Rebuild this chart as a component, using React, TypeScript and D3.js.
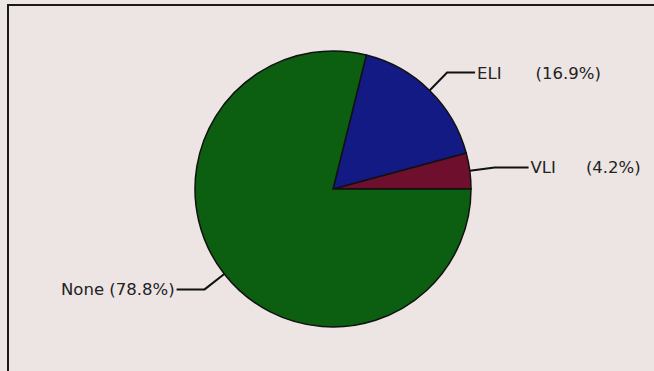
import React from "react";
import * as d3 from "d3";

const categories = ["VLI", "ELI", "None"];
const values = [4.2, 16.9, 78.8];
const pctLabels = ["(4.2%)", "(16.9%)", "(78.8%)"];
const colors = ["#6e0f2e", "#141a84", "#0c5e10"];

const W = 654;
const H = 371;
const cx = 333;
const cy = 189;
const R = 138;
const elbowR = 163;
const font = "'DejaVu Sans', Verdana, sans-serif";

export default function App() {
  const pie = d3
    .pie<number>()
    .sort(null)
    .startAngle(Math.PI / 2)
    .endAngle(Math.PI / 2 - 2 * Math.PI);
  const arcs = pie(values);
  const arc = d3.arc<d3.PieArcDatum<number>>().innerRadius(0).outerRadius(R);
  const pt = (a: number, r: number): [number, number] => [
    Math.sin(a) * r,
    -Math.cos(a) * r,
  ];

  return (
    <svg
      width={W}
      height={H}
      style={{ position: "absolute", left: 0, top: 0, background: "#ede6e3" }}
    >
      <rect x={0} y={0} width={W} height={H} fill="#ede6e3" />
      <rect
        x={8}
        y={5}
        width={W + 20}
        height={H + 20}
        fill="#ece5e3"
        stroke="#1a1a1a"
        strokeWidth={2}
      />
      <g transform={`translate(${cx},${cy})`}>
        {arcs.map((d, i) => (
          <path
            key={categories[i]}
            d={arc(d) as string}
            fill={colors[i]}
            stroke="#111"
            strokeWidth={1.5}
          />
        ))}
        {arcs.map((d, i) => {
          const mid = (d.startAngle + d.endAngle) / 2;
          const p0 = pt(mid, R);
          const p1 = pt(mid, elbowR);
          const right = p1[0] > 0;
          const len = i === 0 ? 34 : 28;
          const x2 = p1[0] + (right ? len : -len);
          const line = d3.line()([p0, p1, [x2, p1[1]]]);
          const tx = x2 + (right ? 2 : -2);
          return (
            <g key={"l" + i}>
              <path d={line as string} fill="none" stroke="#111" strokeWidth={2} />
              {right ? (
                <text
                  x={tx}
                  y={p1[1]}
                  dy="0.36em"
                  fontFamily={font}
                  fontSize={16.5}
                  fill="#222"
                >
                  {categories[i]}
                  <tspan dx={i === 0 ? 30 : 34}>{pctLabels[i]}</tspan>
                </text>
              ) : (
                <text
                  x={tx}
                  y={p1[1]}
                  dy="0.36em"
                  textAnchor="end"
                  fontFamily={font}
                  fontSize={16.5}
                  fill="#222"
                >
                  {categories[i] + " " + pctLabels[i]}
                </text>
              )}
            </g>
          );
        })}
      </g>
    </svg>
  );
}
